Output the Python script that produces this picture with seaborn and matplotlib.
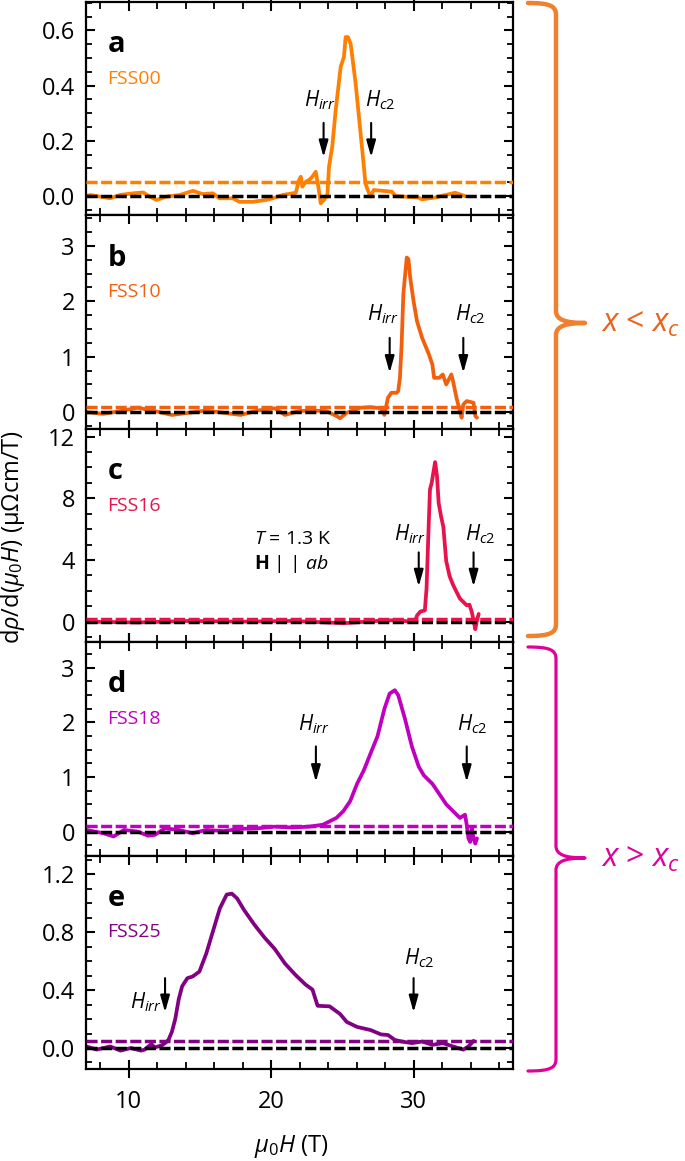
import matplotlib
matplotlib.use('Agg')
import matplotlib.pyplot as plt
from matplotlib.path import Path
from matplotlib.patches import PathPatch
from matplotlib.ticker import MultipleLocator, FormatStrFormatter
import seaborn as sns

# --- data (field in T, drho/dH in uOhm cm / T) ---
field_fss00 = [7.0, 7.29, 7.99, 8.69, 9.38, 10.32, 11.02, 11.48, 11.95, 12.65, 13.58, 14.51, 15.21,
               15.91, 16.37, 17.31, 17.77, 18.71, 19.64, 20.11, 20.81, 21.51, 21.73, 21.96, 22.08,
               22.19, 22.43, 22.66, 22.89, 23.13, 23.31, 23.48, 23.71, 23.83, 23.94, 24.06, 24.29,
               24.53, 24.88, 25.11, 25.23, 25.39, 25.58, 25.93, 26.28, 26.51, 26.62, 26.74, 26.97,
               27.20, 28.48, 28.72, 30.35, 30.58, 31.52, 32.91, 33.61]
drho_fss00 = [0.0, 0.004, -0.002, -0.008, 0.004, 0.010, 0.013, -0.002, -0.014, -0.002, 0.004, 0.019,
              0.007, 0.010, -0.008, -0.008, -0.021, -0.021, -0.014, -0.008, 0.004, 0.010, 0.012,
              0.058, 0.070, 0.034, 0.052, 0.058, 0.070, 0.088, 0.035, -0.026, -0.014, -0.002,
              -0.002, 0.106, 0.18, 0.311, 0.468, 0.504, 0.576, 0.576, 0.552, 0.408, 0.227, 0.106,
              0.046, 0.028, -0.002, 0.022, 0.016, 0.0, -0.005, -0.012, -0.005, 0.012, 0.0]

field_fss10 = [7.02, 8.22, 9.42, 10.63, 11.83, 13.03, 14.24, 15.44, 16.64, 17.85, 19.05, 20.25,
               20.97, 21.94, 22.66, 23.86, 24.59, 24.83, 25.31, 26.27, 26.99, 27.71, 27.95, 28.2,
               28.44, 28.8, 28.92, 29.04, 29.16, 29.28, 29.52, 29.64, 29.76, 30.0, 30.24, 30.6,
               31.08, 31.32, 31.44, 31.8, 32.05, 32.29, 32.65, 32.77, 33.01, 33.25, 33.37, 33.49,
               33.73, 34.21, 34.33, 34.45]
drho_fss10 = [0.0, -0.03, 0.02, 0.08, 0.02, -0.05, -0.01, 0.03, -0.01, -0.05, 0.03, 0.07, -0.05,
              0.02, 0.03, 0.02, -0.07, -0.11, -0.01, 0.08, 0.09, 0.07, -0.05, 0.26, 0.35, 0.35,
              0.38, 0.62, 1.22, 2.13, 2.79, 2.76, 2.43, 2.0, 1.64, 1.34, 1.04, 0.86, 0.62, 0.62,
              0.68, 0.5, 0.68, 0.56, 0.26, 0.02, -0.1, 0.14, 0.2, 0.17, -0.07, -0.1]

field_fss16 = [7.02, 10.63, 14.24, 17.85, 21.46, 25.07, 27.47, 28.68, 29.88, 30.12, 30.24, 30.48,
               30.79, 30.91, 31.03, 31.15, 31.27, 31.39, 31.51, 31.64, 31.76, 31.93, 32.09, 32.29,
               32.53, 32.77, 33.01, 33.25, 33.49, 33.73, 33.92, 34.09, 34.21, 34.33, 34.45, 34.57]
drho_fss16 = [0.0, -0.05, 0.05, 0.0, 0.05, -0.1, 0.05, 0.1, 0.0, 0.07, 0.4, 0.66, 0.73, 2.17,
              5.48, 8.57, 9.0, 9.68, 10.34, 9.46, 7.69, 6.81, 6.14, 3.93, 2.94, 2.39, 1.94, 1.5,
              1.28, 1.06, 1.1, 0.62, 0.07, -0.49, 0.07, 0.5]

field_fss18 = [7.02, 8.22, 8.94, 9.66, 10.63, 11.35, 11.83, 12.55, 13.51, 14.48, 15.44, 16.64,
               17.85, 19.05, 20.25, 21.46, 22.66, 23.62, 24.58, 25.07, 25.55, 26.03, 26.51, 26.99,
               27.47, 27.95, 28.32, 28.68, 28.92, 29.40, 29.88, 30.36, 30.72, 31.32, 31.80, 32.29,
               32.77, 33.25, 33.61, 33.73, 33.85, 33.97, 34.09, 34.21, 34.33, 34.45]
drho_fss18 = [0.03, -0.03, -0.09, 0.03, 0.0, -0.075, -0.06, 0.06, 0.03, -0.03, 0.03, 0.01, 0.05,
              0.06, 0.09, 0.075, 0.09, 0.125, 0.25, 0.375, 0.56, 0.875, 1.125, 1.44, 1.75, 2.25,
              2.53, 2.59, 2.5, 2.06, 1.56, 1.19, 1.03, 0.875, 0.69, 0.5, 0.375, 0.25, 0.31, 0.125,
              -0.125, -0.19, 0.06, -0.125, -0.22, -0.125]

field_fss25 = [7.02, 7.74, 8.70, 9.42, 10.14, 10.87, 11.11, 11.59, 11.83, 12.31, 12.55, 12.79,
               13.03, 13.27, 13.51, 13.75, 14.12, 14.48, 14.96, 15.44, 15.92, 16.40, 16.88, 17.24,
               17.61, 18.09, 18.81, 19.53, 20.25, 20.97, 21.70, 22.42, 22.90, 23.26, 24.10, 24.83,
               25.31, 26.03, 26.99, 27.71, 28.20, 28.68, 29.16, 29.88, 30.60, 31.32, 32.05, 32.77,
               33.49, 33.85, 34.21]
drho_fss25 = [0.011, -0.011, 0.011, -0.018, 0.0, -0.018, -0.011, 0.027, 0.004, 0.018, 0.034,
              0.056, 0.112, 0.202, 0.337, 0.427, 0.483, 0.494, 0.528, 0.652, 0.809, 0.966, 1.061,
              1.067, 1.034, 0.955, 0.854, 0.764, 0.685, 0.584, 0.506, 0.438, 0.404, 0.292, 0.288,
              0.236, 0.180, 0.146, 0.124, 0.094, 0.090, 0.056, 0.045, 0.034, 0.045, 0.022, 0.034,
              0.011, -0.011, 0.011, 0.049]

samples = ['FSS00', 'FSS10', 'FSS16', 'FSS18', 'FSS25']
letters = ['a', 'b', 'c', 'd', 'e']
baseline_offset = [0.05, 0.1, 0.15, 0.1, 0.05]
h_irr = [23.68, 28.32, 30.36, 23.14, 12.55]
h_c2 = [27.02, 33.49, 34.21, 33.73, 30.0]

colors = ['#ff8000', '#f2600e', '#e8124c', '#c000c0', '#820082']

sns.set_style('ticks')
plt.rcParams['font.family'] = ['Open Sans', 'DejaVu Sans']
plt.rcParams['mathtext.fontset'] = 'custom'
plt.rcParams['mathtext.rm'] = 'Open Sans'
plt.rcParams['mathtext.it'] = 'Open Sans:italic'
plt.rcParams['mathtext.bf'] = 'Open Sans:bold'
plt.rcParams['mathtext.sf'] = 'Open Sans'
for key in ('text.color', 'axes.labelcolor', 'xtick.color', 'ytick.color'):
    plt.rcParams[key] = 'black'

W, H = 685, 1161
fig = plt.figure(figsize=(W / 100, H / 100), dpi=100)

left, right = 86, 513.3
top0, step = 2, 213.4

curves = [(field_fss00, drho_fss00), (field_fss10, drho_fss10), (field_fss16, drho_fss16),
          (field_fss18, drho_fss18), (field_fss25, drho_fss25)]
ylims = [(-0.07, 0.703), (-0.3, 3.55), (-1.33, 12.5), (-0.44, 3.47), (-0.145, 1.33)]
ymajor = [0.2, 1, 4, 1, 0.4]
yminor = [0.05, 0.25, 1, 0.25, 0.1]
yfmt = ['%.1f', '%d', '%d', '%d', '%.1f']
# arrow extent (top, bottom) and label height, in data units
arrow_y = [(0.265, 0.141, 0.348), (1.34, 0.71, 1.77), (4.49, 2.28, 5.7), (1.56, 0.91, 1.97),
           (0.483, 0.247, 0.62)]
irr_text_x = [23.45, 27.83, 29.76, 23.02, 11.23]
c2_text_x = [27.68, 33.97, 34.69, 34.09, 30.36]

dash = (0, (3.2, 1.0))
arrow_style = '-|>,head_length=1.0,head_width=0.28'

axes = []
for i in range(5):
    bottom_px = top0 + (i + 1) * step
    ax = fig.add_axes([left / W, 1 - bottom_px / H, (right - left) / W, step / H])
    axes.append(ax)
    xs, ys = curves[i]
    col = colors[i]

    sns.lineplot(x=xs, y=ys, color=col, lw=2.7, ax=ax, zorder=2)
    ax.axhline(0, color='k', ls=dash, lw=2.5, zorder=3)
    ax.axhline(baseline_offset[i], color=col, ls=dash, lw=2.5, zorder=3)

    ax.set_xlim(7, 37)
    ax.set_ylim(*ylims[i])
    ax.xaxis.set_major_locator(MultipleLocator(10))
    ax.xaxis.set_minor_locator(MultipleLocator(2))
    ax.yaxis.set_major_locator(MultipleLocator(ymajor[i]))
    ax.yaxis.set_minor_locator(MultipleLocator(yminor[i]))
    ax.yaxis.set_major_formatter(FormatStrFormatter(yfmt[i]))
    ax.set_xlabel('')
    ax.set_ylabel('')

    for s in ax.spines.values():
        s.set_linewidth(1.6)
        s.set_color('k')
    ax.tick_params(axis='x', which='major', direction='inout', length=12.5, width=1.5,
                   top=True, bottom=True, labelbottom=(i == 4), labelsize=17, pad=9)
    ax.tick_params(axis='x', which='minor', direction='in', length=5, width=1.3,
                   top=True, bottom=True)
    ax.tick_params(axis='y', which='major', direction='in', length=6.5, width=1.5,
                   left=True, right=True, labelsize=17, pad=8)
    ax.tick_params(axis='y', which='minor', direction='in', length=4, width=1.3,
                   left=True, right=True)

    ax.text(0.05, 0.80, letters[i], transform=ax.transAxes, fontsize=21, fontweight='bold',
            ha='left', va='center')
    ax.text(0.05, 0.64, samples[i], transform=ax.transAxes, fontsize=14, color=col,
            ha='left', va='center')

    ya, yb, yt = arrow_y[i]
    for xa in (h_irr[i], h_c2[i]):
        ax.annotate('', xy=(xa, yb), xytext=(xa, ya),
                    arrowprops=dict(arrowstyle=arrow_style, color='k', lw=1.5,
                                    shrinkA=0, shrinkB=0))
    if i == 4:
        ax.text(irr_text_x[i], 0.315, r'$H_{irr}$', fontsize=15, ha='center', va='center')
    else:
        ax.text(irr_text_x[i], yt, r'$H_{irr}$', fontsize=15, ha='center', va='center')
    ax.text(c2_text_x[i], yt, r'$H_{c2}$', fontsize=15, ha='center', va='center')

axes[2].text(18.81, 5.37, r'$T$ = 1.3 K', fontsize=14, ha='left', va='center')
axes[2].text(18.81, 3.71, r'$\mathbf{H}$ | | $ab$', fontsize=14, ha='left', va='center')

fig.text(0.019, 0.5375, r'd$\rho$/d($\mu_0H$) (μΩcm/T)', rotation=90, fontsize=17,
         ha='center', va='center')
fig.text(291 / W, 1 - 1147 / H, r'$\mu_0H$ (T)', fontsize=17, ha='center', va='center')


def brace(x_line, x_end, x_tip, y_top, y_tip, y_bot, color, lw):
    r = 12
    pts = [(x_end, y_top), (x_line - 6, y_top), (x_line, y_top + 3), (x_line, y_top + r),
           (x_line, y_tip - r),
           (x_line, y_tip - 3), (x_line + 10, y_tip), (x_tip, y_tip),
           (x_line + 10, y_tip), (x_line, y_tip + 3), (x_line, y_tip + r),
           (x_line, y_bot - r),
           (x_line, y_bot - 3), (x_line - 6, y_bot), (x_end, y_bot)]
    codes = [Path.MOVETO, Path.CURVE4, Path.CURVE4, Path.CURVE4, Path.LINETO,
             Path.CURVE4, Path.CURVE4, Path.CURVE4,
             Path.CURVE4, Path.CURVE4, Path.CURVE4, Path.LINETO,
             Path.CURVE4, Path.CURVE4, Path.CURVE4]
    verts = [(x / W, 1 - y / H) for x, y in pts]
    patch = PathPatch(Path(verts, codes), transform=fig.transFigure, fill=False,
                      edgecolor=color, lw=lw, capstyle='round', joinstyle='round')
    fig.add_artist(patch)


brace(556, 528, 585, 3, 323, 636, '#f08030', 3.2)
brace(556, 528, 585, 647, 858, 1071, '#e0009a', 2.3)
fig.text(601 / W, 1 - 323 / H, r'$x$ < $x_c$', fontsize=23, color='#e8641c',
         ha='left', va='center')
fig.text(601 / W, 1 - 858 / H, r'$x$ > $x_c$', fontsize=23, color='#e0009a',
         ha='left', va='center')

fig.savefig('out.png', dpi=100)
